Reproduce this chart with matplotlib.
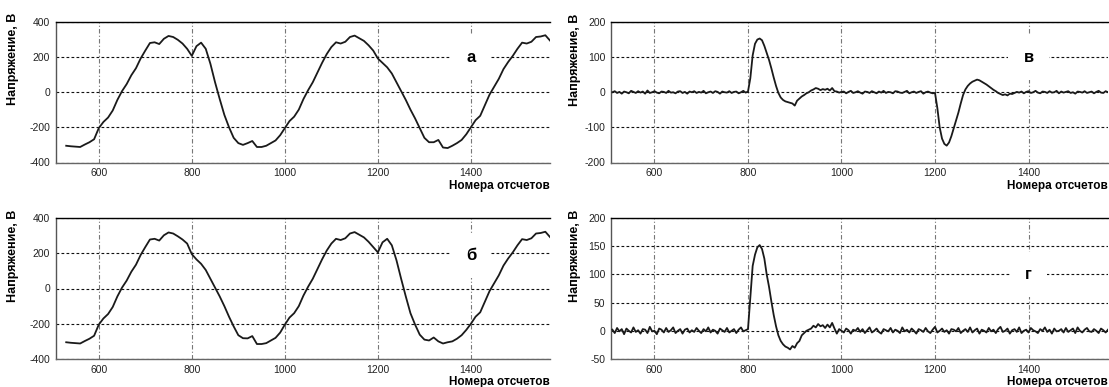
import numpy as np
import matplotlib
matplotlib.use("Agg")
import matplotlib.pyplot as plt

plt.rcParams["font.family"] = ["Liberation Sans", "DejaVu Sans"]
plt.rcParams["axes.unicode_minus"] = False

# sample numbers of the network voltage traces (every 10th sample)
x_wave = np.arange(530, 1580, 10)

# trace "а": disturbance at sample ~800
volt_a = [
    -305, -308, -310, -312, -298, -285, -268, -205, -170, -145, -105, -45,
    5, 45, 95, 135, 190, 235, 278, 282, 272, 302, 318, 312,
    296, 275, 245, 205, 260, 280, 245, 160, 55, -40, -130, -200,
    -260, -290, -300, -290, -278, -312, -312, -305, -290, -275, -245, -205,
    -165, -140, -100, -40, 10, 55, 110, 165, 215, 255, 282, 275,
    285, 312, 320, 305, 290, 265, 235, 190, 165, 140, 105, 55,
    5, -45, -100, -150, -205, -260, -285, -285, -272, -315, -318, -305,
    -290, -272, -240, -200, -160, -135, -75, -15, 30, 75, 130, 170,
    205, 245, 280, 275, 285, 312, 315, 322, 292,
]

# trace "б": disturbance at sample ~1200
volt_b = [
    -305, -308, -310, -312, -298, -285, -268, -205, -170, -145, -105, -45,
    5, 45, 95, 135, 190, 235, 278, 282, 272, 302, 318, 312,
    296, 278, 255, 195, 165, 140, 105, 55, 5, -45, -100, -160,
    -215, -265, -282, -283, -270, -315, -315, -310, -295, -280, -250, -205,
    -165, -140, -100, -40, 10, 55, 110, 165, 215, 255, 282, 275,
    285, 312, 320, 305, 290, 265, 235, 205, 262, 282, 245, 160,
    55, -45, -140, -205, -262, -290, -295, -278, -300, -312, -305, -300,
    -285, -265, -235, -200, -160, -135, -75, -15, 30, 75, 130, 170,
    205, 245, 280, 275, 285, 312, 315, 322, 292,
]

# difference traces (every 5th sample)
x_diff = np.arange(510, 1575, 5)

volt_v = [
    0, 3, -2, 1, -4, 2, 0, -3, 4, 1, -2, 3,
    -1, 2, -4, 5, -2, 0, 3, -1, -3, 2, 1, -2,
    4, -1, 0, -3, 2, 3, -2, 1, -4, 2, 0, 3,
    -2, 1, -1, 4, -3, 0, 2, -2, 3, 1, -4, 2,
    0, -1, 3, -2, 1, 2, -3, 0, 4, -1,
    2, 40, 105, 138, 150, 153, 148, 132, 112, 92, 68, 42,
    18, -2, -15, -22, -26, -28, -30, -32, -38, -24, -18, -12,
    -8, -3, 0, 5, 8, 12, 10, 6, 9, 7, 10, 5,
    12, 3, 2, -1, 1,
    2, -3, 1, 4, -2, 0, 3, -1, -4, 2, 1, -2, 3,
    0, -3, 2, -1, 4, -2, 1, 0, -3, 3, 2, -1, -2,
    1, 4, -3, 0, 2, -2, 1, 3, -4, 0, 2, -1, -3,
    -2, -45, -100, -132, -147, -152, -143, -125, -103, -82, -58, -32,
    -8, 8, 18, 25, 30, 33, 36, 34, 30, 26, 22, 17,
    12, 7, 3, -2, -5, -8, -6, -9, -4, -5, -2, 1, -1,
    2, -3, 1, 3, -2, 0, 4, -1, -3, 2, 1, -2, 3,
    -1, 0, 4, -3, 2, -1, 1, 3, -2, 0, -4, 2, 1,
    -1, 3, -2, 0, 2, -3, 1, 4, -1, -2, 3, 0,
]

volt_g = [
    2, -4, 5, -1, 3, -6, 4, 0, -3, 6, -2, 1,
    -5, 3, 2, -4, 7, -1, 0, -6, 4, 2, -3, 5,
    -2, 1, 6, -4, 0, 3, -5, 2, 4, -3, 1, -2,
    5, 0, -4, 3, -1, 6, -3, 2, 0, -5, 4, 1,
    -2, 5, -3, 0, 3, -4, 2, 6, -1, 1,
    3, 60, 115, 135, 148, 152, 145, 128, 100, 78, 52, 28,
    8, -8, -18, -24, -28, -30, -33, -27, -30, -22, -18, -8,
    -4, 0, 2, 4, 9, 6, 12, 8, 10, 5, 11, 6,
    14, 4, -5, 3, 0,
    -3, 4, 1, -5, 2, 0, 5, -2, 3, -4, 1, 6,
    -3, 0, 4, -2, -5, 3, 1, -1, 5, -3, 2, 0,
    -4, 6, -1, 2, -3, 4, 0, -5, 3, 1, -2, 5,
    -1, -4, 2, 7, -3, 0, 4, -2, 1, -5, 3, 2,
    -1, 5, -4, 0, 3, -2, 6, -3, 1, 4, -5, 2,
    0, -3, 5, -1, 2, -4, 3, 7, -2, 0, 4, -5,
    1, 3, -2, 6, -4, 0, 2, -3, 5, 1, -1, -4,
    3, 0, 6, -2, 2, -5, 4, -1, 0, 3, -3, 5,
    -2, 1, 4, -4, 6, 0, -3, 2, 5, -1,
    -2, 3, 0, -4, 4, 1, -3, 2,
]

x_ticks = [600, 800, 1000, 1200, 1400]
ylabel = "Напряжение, В"
xlabel = "Номера отсчетов"

W, H = 1109, 387
fig = plt.figure(figsize=(W / 100, H / 100), dpi=100)


def box(l, t, r, b):
    return [l / W, 1 - b / H, (r - l) / W, (b - t) / H]


panels = [
    (box(55.5, 21.5, 550, 162.5), x_wave, volt_a, (-400, 400), [-400, -200, 0, 200, 400], "а", 195, -0.085),
    (box(611, 22, 1108, 162.5), x_diff, volt_v, (-200, 200), [-200, -100, 0, 100, 200], "в", 98, -0.072),
    (box(55.5, 218, 550, 359), x_wave, volt_b, (-400, 400), [-400, -200, 0, 200, 400], "б", 190, -0.085),
    (box(611, 218, 1108, 359), x_diff, volt_g, (-50, 200), [-50, 0, 50, 100, 150, 200], "г", 100, -0.072),
]

for rect, xs, ys, ylim, yticks, letter, ly, ylx in panels:
    ax = fig.add_axes(rect)
    ax.plot(xs, ys, color="#1a1a1a", lw=1.3, zorder=3)
    ax.set_xlim(507, 1570)
    ax.set_ylim(*ylim)
    ax.set_xticks(x_ticks)
    ax.set_yticks(yticks)
    ax.yaxis.grid(True, color="#111111", linestyle=(0, (2.5, 2)), lw=0.8)
    ax.xaxis.grid(True, color="#777777", linestyle=(0, (4, 2, 1, 2)), lw=0.8)
    ax.set_axisbelow(True)
    ax.spines["right"].set_visible(False)
    ax.spines["top"].set_color("black")
    ax.spines["left"].set_color("#555555")
    ax.spines["bottom"].set_color("#666666")
    for s in ax.spines.values():
        s.set_linewidth(1.0)
    ax.tick_params(length=0, labelsize=7.5, labelcolor="#222222", pad=4)
    ax.text(1.0, -0.165, xlabel, transform=ax.transAxes, ha="right", va="center",
            fontsize=8.5, fontweight="bold")
    ax.text(ylx, 1.06, ylabel, transform=ax.transAxes, rotation=90, ha="center", va="top",
            fontsize=9, fontweight="bold")
    ax.text(1400, ly, letter, ha="center", va="center", fontsize=12, fontweight="bold",
            zorder=5, bbox=dict(boxstyle="square,pad=0.9", fc="white", ec="none"))

fig.savefig("out.png", dpi=100)
